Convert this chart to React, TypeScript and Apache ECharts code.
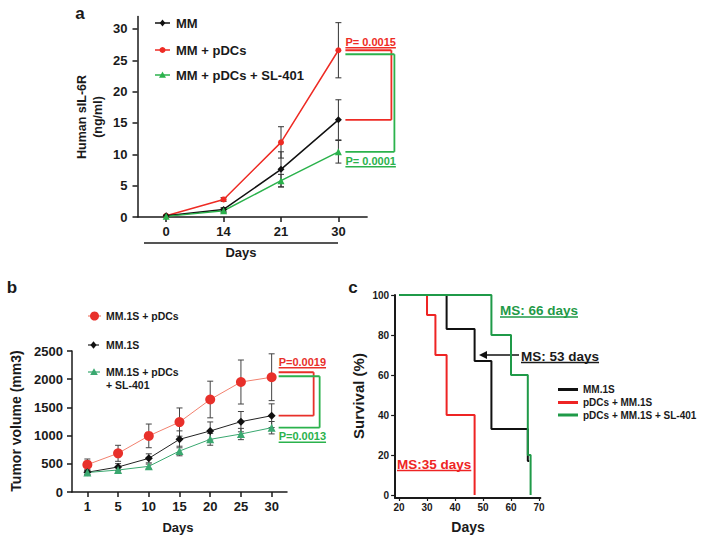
import React, { useEffect, useRef } from "react";
import * as echarts from "echarts";

const FONT = "'Liberation Sans', Arial, Helvetica, sans-serif";

// ---------- Panel a: Human sIL-6R ----------
const daysA = ["0", "14", "21", "30"];
const legendA = ["MM", "MM + pDCs", "MM + pDCs + SL-401"];
const mmA = [0.2, 1.2, 7.6, 15.5];
const mmErrA = [0.1, 0.3, 2.8, 3.2];
const pdcA = [0.2, 2.8, 11.9, 26.6];
const pdcErrA = [0.1, 0.3, 2.5, 4.4];
const slA = [0.1, 1.0, 5.8, 10.4];
const slErrA = [0.1, 0.3, 1.0, 1.8];
const yTicksA = [0, 5, 10, 15, 20, 25, 30];
const pTextA = ["P= 0.0015", "P= 0.0001"];

// ---------- Panel b: Tumor volume ----------
const daysB = ["1", "5", "10", "15", "20", "25", "30"];
const legendB = ["MM.1S + pDCs", "MM.1S", "MM.1S + pDCs", "+ SL-401"];
const pdcB = [485, 686, 995, 1240, 1640, 1950, 2035];
const pdcErrB = [100, 142, 210, 250, 325, 390, 415];
const mmB = [350, 443, 597, 934, 1082, 1247, 1353];
const mmErrB = [45, 60, 80, 150, 160, 180, 210];
const slB = [345, 390, 455, 727, 934, 1028, 1140];
const slErrB = [35, 40, 40, 85, 105, 100, 110];
const pTextB = ["P=0.0019", "P=0.0013"];

// ---------- Panel c: Survival ----------
const legendC = ["MM.1S", "pDCs + MM.1S", "pDCs + MM.1S + SL-401"];
const kmMM = [[20, 100], [37, 83], [47, 67], [53, 33], [66, 17], [66.5, 17]];
const kmPdc = [[20, 100], [30, 90], [33, 70], [37, 40], [47, 0]];
const kmSL = [[20, 100], [53, 80], [60, 60], [66, 20], [67, 0]];
const xTicksC = [20, 30, 40, 50, 60, 70];
const yTicksC = [0, 20, 40, 60, 80, 100];
const msText = ["MS: 66 days", "MS: 53 days", "MS:35 days"];

const AX = "#1a1a1a";
const RED_A = "#ee2b24";
const GREEN_A = "#2bb24c";
const RED_B = "#e8302a";
const RED_B_LINE = "#f2806e";
const GREEN_B = "#3aa870";
const RED_C = "#ee2424";
const GREEN_C = "#1f9a48";

function measure(text: string, size: number) {
  const c = document.createElement("canvas").getContext("2d")!;
  c.font = `bold ${size}px ${FONT}`;
  return c.measureText(text).width;
}

function txt(x: number, y: number, text: string, size: number, color: string, align = "left", rotation = 0, lineHeight?: number) {
  return {
    type: "text",
    x,
    y,
    rotation,
    silent: true,
    style: {
      text,
      x: 0,
      y: 0,
      fill: color,
      fontSize: size,
      fontWeight: "bold",
      fontFamily: FONT,
      textAlign: align,
      textVerticalAlign: "middle",
      align,
      verticalAlign: "middle",
      lineHeight: lineHeight || Math.round(size * 1.2),
    },
  };
}

function line(x1: number, y1: number, x2: number, y2: number, color: string, w: number) {
  return { type: "line", silent: true, shape: { x1, y1, x2, y2 }, style: { stroke: color, lineWidth: w } };
}

function ulText(x: number, y: number, text: string, size: number, color: string, off: number, w = 1.5) {
  const width = measure(text, size);
  return [txt(x, y, text, size, color), line(x, y + off, x + width, y + off, color, w)];
}

function marker(kind: string, cx: number, cy: number, r: number, color: string) {
  if (kind === "circle") return { type: "circle", silent: true, shape: { cx, cy, r }, style: { fill: color } };
  if (kind === "diamond")
    return { type: "polygon", silent: true, shape: { points: [[cx, cy - r], [cx + r * 0.8, cy], [cx, cy + r], [cx - r * 0.8, cy]] }, style: { fill: color } };
  return { type: "polygon", silent: true, shape: { points: [[cx, cy - r], [cx + r, cy + r * 0.8], [cx - r, cy + r * 0.8]] }, style: { fill: color } };
}

function errSeries(ai: number, means: number[], errs: number[], color: string, width: number, cap: number) {
  return {
    type: "custom",
    xAxisIndex: ai,
    yAxisIndex: ai,
    z: 1,
    silent: true,
    data: means.map((m, i) => [i, m - errs[i], m + errs[i]]),
    encode: { x: 0, y: [1, 2] },
    renderItem: (_p: any, api: any) => {
      const lo = api.coord([api.value(0), api.value(1)]);
      const hi = api.coord([api.value(0), api.value(2)]);
      const st = { stroke: color, lineWidth: width };
      return {
        type: "group",
        children: [
          { type: "line", shape: { x1: lo[0], y1: lo[1], x2: hi[0], y2: hi[1] }, style: st },
          { type: "line", shape: { x1: lo[0] - cap, y1: lo[1], x2: lo[0] + cap, y2: lo[1] }, style: st },
          { type: "line", shape: { x1: hi[0] - cap, y1: hi[1], x2: hi[0] + cap, y2: hi[1] }, style: st },
        ],
      };
    },
  };
}

function lab(size: number, margin: number, extra: any = {}) {
  return { color: AX, fontFamily: FONT, fontWeight: "bold", fontSize: size, margin, ...extra };
}

const plain = (v: number) => String(v);

export default function App() {
  const ref = useRef<HTMLDivElement>(null);
  useEffect(() => {
    const chart = echarts.init(ref.current!, null, { renderer: "svg" });
    const axLine = (w: number) => ({ show: true, onZero: false, lineStyle: { color: AX, width: w } });
    const tick = (len: number, w: number, extra: any = {}) => ({ show: true, length: len, lineStyle: { color: AX, width: w }, ...extra });

    chart.setOption({
      animation: false,
      backgroundColor: "#ffffff",
      grid: [
        { left: 137.5, top: 16.4, width: 229.6, height: 200.6 },
        { left: 72, top: 351, width: 215, height: 141 },
        { left: 395.1, top: 295, width: 145.3, height: 203 },
      ],
      xAxis: [
        {
          gridIndex: 0, type: "category", data: daysA, boundaryGap: true,
          axisLine: axLine(1.5), axisTick: tick(5, 1.5, { alignWithLabel: true, interval: 0 }),
          axisLabel: lab(13, 8, { interval: 0 }), splitLine: { show: false },
        },
        {
          gridIndex: 1, type: "category", data: daysB, boundaryGap: true,
          axisLine: axLine(1.5), axisTick: tick(5, 1.5, { alignWithLabel: true, interval: 0 }),
          axisLabel: lab(13, 8, { interval: 0 }), splitLine: { show: false },
        },
        {
          gridIndex: 2, type: "value", min: 18.6, max: 70.5,
          axisLine: axLine(2), axisTick: tick(3, 1.2, { customValues: xTicksC }),
          axisLabel: lab(10, 4, { customValues: xTicksC, formatter: plain }), splitLine: { show: false },
        },
      ],
      yAxis: [
        {
          gridIndex: 0, type: "value", min: 0, max: 32,
          axisLine: axLine(1.5), axisTick: tick(5, 1.5, { customValues: yTicksA }),
          axisLabel: lab(13, 10, { customValues: yTicksA, formatter: plain }), splitLine: { show: false },
        },
        {
          gridIndex: 1, type: "value", min: 0, max: 2500, interval: 500,
          axisLine: axLine(1.5), axisTick: tick(5, 1.5),
          axisLabel: lab(13, 9, { formatter: plain }), splitLine: { show: false },
        },
        {
          gridIndex: 2, type: "value", min: -1.5, max: 100,
          axisLine: axLine(2), axisTick: tick(4, 1.2, { customValues: yTicksC }),
          axisLabel: lab(10, 6, { customValues: yTicksC, formatter: plain }), splitLine: { show: false },
        },
      ],
      series: [
        errSeries(0, pdcA, pdcErrA, "#333", 1, 3),
        errSeries(0, mmA, mmErrA, "#333", 1, 3),
        errSeries(0, slA, slErrA, "#333", 1, 3),
        { type: "line", name: legendA[1], xAxisIndex: 0, yAxisIndex: 0, data: pdcA, z: 3, symbol: "circle", symbolSize: 6, itemStyle: { color: RED_A }, lineStyle: { color: RED_A, width: 1.5 } },
        { type: "line", name: legendA[0], xAxisIndex: 0, yAxisIndex: 0, data: mmA, z: 3, symbol: "diamond", symbolSize: 7, itemStyle: { color: "#111" }, lineStyle: { color: "#111", width: 1.5 } },
        { type: "line", name: legendA[2], xAxisIndex: 0, yAxisIndex: 0, data: slA, z: 3, symbol: "triangle", symbolSize: 7, itemStyle: { color: GREEN_A }, lineStyle: { color: GREEN_A, width: 1.5 } },

        errSeries(1, pdcB, pdcErrB, "#444", 1, 3),
        errSeries(1, mmB, mmErrB, "#444", 1, 3),
        errSeries(1, slB, slErrB, "#444", 1, 3),
        { type: "line", name: "b-pdc", xAxisIndex: 1, yAxisIndex: 1, data: pdcB, z: 3, symbol: "circle", symbolSize: 10, itemStyle: { color: RED_B }, lineStyle: { color: RED_B_LINE, width: 1 } },
        { type: "line", name: "b-mm", xAxisIndex: 1, yAxisIndex: 1, data: mmB, z: 3, symbol: "diamond", symbolSize: 8, itemStyle: { color: "#111" }, lineStyle: { color: "#222", width: 1 } },
        { type: "line", name: "b-sl", xAxisIndex: 1, yAxisIndex: 1, data: slB, z: 3, symbol: "triangle", symbolSize: 8, itemStyle: { color: GREEN_B }, lineStyle: { color: GREEN_B, width: 1 } },

        { type: "line", name: "c-pdc", xAxisIndex: 2, yAxisIndex: 2, data: kmPdc, step: "end", showSymbol: false, symbol: "none", lineStyle: { color: RED_C, width: 2 } },
        { type: "line", name: "c-mm", xAxisIndex: 2, yAxisIndex: 2, data: kmMM, step: "end", showSymbol: false, symbol: "none", lineStyle: { color: "#111", width: 2 } },
        { type: "line", name: "c-sl", xAxisIndex: 2, yAxisIndex: 2, data: kmSL, step: "end", showSymbol: false, symbol: "none", lineStyle: { color: GREEN_C, width: 2 } },
      ],
    });

    const px = (ai: number, v: number[]) => chart.convertToPixel({ xAxisIndex: ai, yAxisIndex: ai } as any, v) as number[];
    const g: any[] = [];

    // Panel letters
    g.push(txt(80, 13, "a", 17, AX, "center"));
    g.push(txt(12, 287, "b", 17, AX, "center"));
    g.push(txt(353, 287, "c", 17, AX, "center"));

    // ---- Panel a extras ----
    g.push(txt(90, 117, "Human sIL-6R\n(ng/ml)", 12.5, AX, "center", Math.PI / 2, 16));
    g.push(line(144, 243, 338, 243, "#555", 2));
    g.push(txt(241, 252, "Days", 13, AX, "center"));
    const legA = [
      { y: 23, c: "#111", k: "diamond", r: 3.5 },
      { y: 50, c: RED_A, k: "circle", r: 3 },
      { y: 75, c: GREEN_A, k: "triangle", r: 3.5 },
    ];
    legA.forEach((l, i) => {
      g.push(line(155, l.y, 170, l.y, l.c, 1.5));
      g.push(marker(l.k, 162.5, l.y, l.r, l.c));
      g.push(txt(176, l.y, legendA[i], 13, AX));
    });
    {
      const r = px(0, [3, pdcA[3]]);
      const b = px(0, [3, mmA[3]]);
      const s = px(0, [3, slA[3]]);
      const x0 = r[0] + 7;
      const rx = x0 + 46;
      const gx = x0 + 49;
      const gTop = r[1] + 4;
      g.push(line(x0, r[1], rx, r[1], RED_A, 1.8));
      g.push(line(rx, r[1], rx, b[1], RED_A, 1.8));
      g.push(line(rx, b[1], x0, b[1], RED_A, 1.8));
      g.push(line(x0, gTop, gx, gTop, GREEN_A, 1.8));
      g.push(line(gx, gTop, gx, s[1], GREEN_A, 1.8));
      g.push(line(gx, s[1], x0, s[1], GREEN_A, 1.8));
      g.push(...ulText(x0, r[1] - 8, pTextA[0], 11, RED_A, 5.5));
      g.push(...ulText(x0, s[1] + 9, pTextA[1], 11, GREEN_A, 6));
    }

    // ---- Panel b extras ----
    g.push(txt(16, 421, "Tumor volume (mm3)", 14, AX, "center", Math.PI / 2));
    g.push(txt(178, 527, "Days", 13, AX, "center"));
    g.push(line(88, 316, 101, 316, RED_B_LINE, 1.2));
    g.push(marker("circle", 94.5, 316, 4.5, RED_B));
    g.push(txt(106, 316, legendB[0], 10.5, AX));
    g.push(line(88, 345, 99, 345, "#222", 1.2));
    g.push(marker("diamond", 93.5, 345, 3.8, "#111"));
    g.push(txt(106, 345, legendB[1], 10.5, AX));
    g.push(line(88, 372, 100, 372, GREEN_B, 1.2));
    g.push(marker("triangle", 94, 372, 3.8, GREEN_B));
    g.push(txt(106, 372, legendB[2], 10.5, AX));
    g.push(txt(106, 384.5, legendB[3], 10.5, AX));
    {
      const r = px(1, [6, pdcB[6]]);
      const b = px(1, [6, mmB[6]]);
      const s = px(1, [6, slB[6]]);
      const x0 = r[0] + 7;
      const rx = x0 + 35;
      const gx = x0 + 41;
      const rTop = r[1] - 5;
      const gTop = r[1] - 1;
      g.push(line(x0, rTop, rx, rTop, RED_B, 1.8));
      g.push(line(rx, rTop, rx, b[1], RED_B, 1.8));
      g.push(line(rx, b[1], x0, b[1], RED_B, 1.8));
      g.push(line(x0, gTop, gx, gTop, GREEN_A, 1.8));
      g.push(line(gx, gTop, gx, s[1], GREEN_A, 1.8));
      g.push(line(gx, s[1], x0, s[1], GREEN_A, 1.8));
      g.push(...ulText(x0, rTop - 10, pTextB[0], 11, RED_B, 5.5));
      g.push(...ulText(x0, s[1] + 8.5, pTextB[1], 11, GREEN_A, 6));
    }

    // ---- Panel c extras ----
    g.push(txt(358, 396, "Survival (%)", 15, AX, "center", Math.PI / 2));
    g.push(txt(468, 527, "Days", 14, AX, "center"));
    g.push(...ulText(500, 310.5, msText[0], 13.5, GREEN_C, 6.5, 1.5));
    g.push(...ulText(521, 356, msText[1], 13.5, "#1a1a1a", 6.5, 1.5));
    g.push(...ulText(397, 464, msText[2], 13.5, RED_C, 6.5, 1.5));
    g.push(line(485, 355, 519, 355, "#111", 1.5));
    g.push({ type: "polygon", silent: true, shape: { points: [[479, 355], [487, 351], [487, 359]] }, style: { fill: "#111" } });
    const legC = [
      { y: 389.5, c: "#111" },
      { y: 402.5, c: RED_C },
      { y: 415, c: GREEN_C },
    ];
    legC.forEach((l, i) => {
      g.push(line(558, l.y, 578, l.y, l.c, 3));
      g.push(txt(583, l.y, legendC[i], 10, AX));
    });

    chart.setOption({ graphic: { elements: g } });

    return () => chart.dispose();
  }, []);

  return <div ref={ref} style={{ position: "fixed", left: 0, top: 0, width: 704, height: 544, background: "#fff" }} />;
}
